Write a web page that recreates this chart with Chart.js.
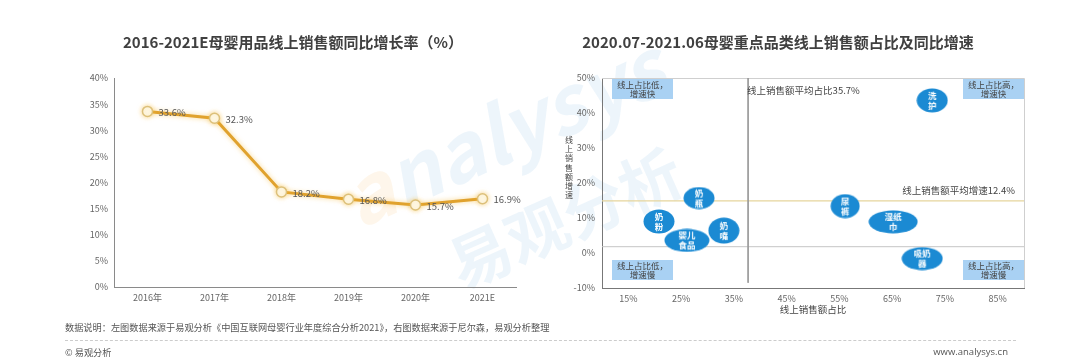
<!DOCTYPE html>
<html>
<head>
<meta charset="utf-8">
<script src="https://cdn.jsdelivr.net/npm/chart.js@4.4.0/dist/chart.umd.min.js"></script>
<style>
html,body{margin:0;padding:0;background:#fff;}
#page{position:relative;width:1080px;height:360px;overflow:hidden;font-family:"Noto Sans CJK SC","Noto Sans",sans-serif;}
#page canvas{position:absolute;top:0;}
.title{position:absolute;top:32px;font-size:15px;font-weight:bold;color:#404040;white-space:nowrap;transform:translateX(-50%);line-height:20px;}
.wm{position:absolute;white-space:nowrap;font-weight:bold;color:rgba(80,155,215,0.10);transform-origin:center;}
.note{position:absolute;left:65px;top:320px;font-size:9.2px;color:#555;line-height:14px;white-space:nowrap;}
.rule{position:absolute;left:65px;width:951px;top:340px;border-top:1px dashed #ccc;}
.copy{position:absolute;left:65px;top:345px;font-size:9.2px;color:#555;line-height:14px;}
.site{position:absolute;right:72px;top:345px;font-size:9.5px;color:#555;line-height:14px;font-family:"Open Sans",sans-serif;}
</style>
</head>
<body>
<div id="page">
  <div class="wm" style="left:330px;top:70px;font-size:80px;font-style:italic;transform:rotate(-24deg);"><span style="color:rgba(245,170,60,0.10)">a</span>nalysys</div>
  <div class="wm" style="left:440px;top:170px;font-size:62px;transform:rotate(-24deg);">易观分析</div>
  <canvas id="rateChart" width="540" height="360" style="left:0"></canvas>
  <canvas id="shareChart" width="540" height="360" style="left:540px"></canvas>
  <div class="title" style="left:293px">2016-2021E母婴用品线上销售额同比增长率（%）</div>
  <div class="title" style="left:778px">2020.07-2021.06母婴重点品类线上销售额占比及同比增速</div>
  <div class="note">数据说明：左图数据来源于易观分析《中国互联网母婴行业年度综合分析2021》，右图数据来源于尼尔森，易观分析整理</div>
  <div class="rule"></div>
  <div class="copy">© 易观分析</div>
  <div class="site">www.analysys.cn</div>
</div>
<script>
// left chart data
var years = ['2016年','2017年','2018年','2019年','2020年','2021E'];
var growthRate = [33.6, 32.3, 18.2, 16.8, 15.7, 16.9];

// right chart data
var categories = ['奶瓶','奶粉','婴儿食品','奶嘴','尿裤','湿纸巾','吸奶器','洗护'];
var catLines = [['奶','瓶'],['奶','粉'],['婴儿','食品'],['奶','嘴'],['尿','裤'],['湿纸','巾'],['吸奶','器'],['洗','护']];
var onlineShare = [28.4, 20.8, 26.1, 33.1, 56.1, 65.2, 70.7, 72.6];
var onlineGrowth = [15.7, 9.0, 3.6, 6.4, 13.4, 8.9, -1.6, 43.6];
var shareTicks = [15, 25, 35, 45, 55, 65, 75, 85];
var avgShareAt = 37.7, avgGrowthAt = 14.9, baseAt = 1.8;
var avgShareText = '线上销售额平均占比35.7%';
var avgGrowthText = '线上销售额平均增速12.4%';
var quadText = [['线上占比低，','增速快'],['线上占比高，','增速快'],['线上占比低，','增速慢'],['线上占比高，','增速慢']];

// bubble shapes (style only)
var bubbleW = [32, 32, 46, 32, 30, 50, 42, 32];
var bubbleH = [23, 25, 24, 27, 25, 24, 24, 25];

var FONT = '"Noto Sans CJK SC","Noto Sans",sans-serif';
Chart.defaults.font.family = FONT;

function makeBubble(lines, w, h){
  var cv = document.createElement('canvas');
  cv.width = w; cv.height = h;
  var g = cv.getContext('2d');
  g.fillStyle = '#1b8ad3';
  g.beginPath();
  g.ellipse(w/2, h/2, w/2 - 0.5, h/2 - 0.5, 0, 0, Math.PI*2);
  g.fill();
  g.fillStyle = '#fff';
  g.font = 'bold 8.5px ' + FONT;
  g.textAlign = 'center';
  g.textBaseline = 'middle';
  g.fillText(lines[0], w/2, h/2 - 5);
  g.fillText(lines[1], w/2, h/2 + 5);
  return cv;
}

var glow = {
  id: 'glow',
  beforeDatasetsDraw: function(c){ c.ctx.save(); c.ctx.shadowColor = 'rgba(245,185,60,0.6)'; c.ctx.shadowBlur = 5; },
  afterDatasetsDraw: function(c){ c.ctx.restore(); }
};

var rateLabels = {
  id: 'rateLabels',
  afterDatasetsDraw: function(c){
    var ctx = c.ctx, meta = c.getDatasetMeta(0);
    ctx.save();
    ctx.font = '9.5px ' + FONT;
    ctx.fillStyle = '#555';
    ctx.textBaseline = 'middle';
    for(var i=0;i<meta.data.length;i++){
      var p = meta.data[i];
      ctx.fillText(growthRate[i].toFixed(1) + '%', p.x + 11, p.y + 1);
    }
    ctx.restore();
  }
};

new Chart(document.getElementById('rateChart'), {
  type: 'line',
  data: {
    labels: years,
    datasets: [{
      data: growthRate,
      borderColor: '#e0a22e',
      borderWidth: 3,
      pointRadius: 5,
      pointBackgroundColor: '#fffef5',
      pointBorderColor: '#dcc07a',
      pointBorderWidth: 1.5,
      tension: 0
    }]
  },
  options: {
    responsive: false,
    animation: false,
    layout: { padding: { left: 64, right: 24, top: 78, bottom: 48 } },
    plugins: { legend: { display: false }, tooltip: { enabled: false } },
    scales: {
      x: {
        offset: true,
        grid: { display: false, drawTicks: false },
        border: { color: '#8a8a8a', width: 1 },
        ticks: { padding: 5, color: '#666', font: { size: 9 } },
        afterFit: function(s){ s.height = 25; }
      },
      y: {
        min: 0, max: 40,
        grid: { display: false, drawTicks: false },
        border: { color: '#8a8a8a', width: 1 },
        ticks: { stepSize: 5, padding: 6, color: '#666', font: { size: 9 }, callback: function(v){ return v + '%'; } },
        afterFit: function(s){ s.width = 50; }
      }
    }
  },
  plugins: [glow, rateLabels]
});

var shareDecor = {
  id: 'shareDecor',
  beforeDatasetsDraw: function(c){
    var ctx = c.ctx, a = c.chartArea;
    ctx.save();
    ctx.strokeStyle = '#cfcfcf';
    ctx.lineWidth = 1;
    ctx.beginPath();
    ctx.moveTo(a.left, a.top + 0.5); ctx.lineTo(a.right + 0.5, a.top + 0.5);
    ctx.lineTo(a.right + 0.5, a.bottom);
    ctx.stroke();
    ctx.restore();
  },
  afterDatasetsDraw: function(c){
    var ctx = c.ctx, a = c.chartArea, xs = c.scales.x, ys = c.scales.y;
    ctx.save();
    // quadrant tags
    var bw = 61, bh = 20;
    var boxes = [[a.left + 10, a.top + 1], [a.right - bw, a.top + 1], [a.left + 10, a.bottom - 28], [a.right - bw, a.bottom - 28]];
    ctx.font = '8.5px ' + FONT;
    ctx.textAlign = 'center';
    ctx.textBaseline = 'middle';
    for(var i=0;i<boxes.length;i++){
      ctx.fillStyle = '#a9d1f3';
      ctx.fillRect(boxes[i][0], boxes[i][1], bw, bh);
      ctx.fillStyle = '#444';
      ctx.fillText(quadText[i][0], boxes[i][0] + bw/2, boxes[i][1] + 5.5);
      ctx.fillText(quadText[i][1], boxes[i][0] + bw/2, boxes[i][1] + 15);
    }
    // average line labels
    ctx.font = '9.5px ' + FONT;
    ctx.fillStyle = '#444';
    ctx.textAlign = 'left';
    ctx.fillText(avgShareText, xs.getPixelForValue(avgShareAt) - 1, a.top + 12);
    ctx.textAlign = 'right';
    ctx.fillText(avgGrowthText, a.right - 9, ys.getPixelForValue(avgGrowthAt) - 10);
    // vertical y-axis title
    ctx.font = '8px ' + FONT;
    ctx.textAlign = 'center';
    var yt = '线上销售额增速';
    for(var k=0;k<yt.length;k++){
      ctx.fillText(yt[k], a.left - 33, 140 + k*9.2);
    }
    ctx.restore();
  }
};

var bubbleImgs = [];
for(var b=0;b<categories.length;b++){ bubbleImgs.push(makeBubble(catLines[b], bubbleW[b], bubbleH[b])); }

var bubblePts = [];
for(var j=0;j<onlineShare.length;j++){ bubblePts.push({ x: onlineShare[j], y: onlineGrowth[j] }); }

new Chart(document.getElementById('shareChart'), {
  type: 'scatter',
  data: {
    datasets: [
      { label: '品类', data: bubblePts, pointStyle: bubbleImgs, pointRadius: 12, showLine: false },
      { label: 'avgShare', data: [{x: avgShareAt, y: 50}, {x: avgShareAt, y: -8.5}], showLine: true, borderColor: '#9c9c9c', borderWidth: 1, pointRadius: 0 },
      { label: 'avgGrowth', data: [{x: 10, y: avgGrowthAt}, {x: 90, y: avgGrowthAt}], showLine: true, borderColor: '#e6d59c', borderWidth: 1.2, pointRadius: 0 },
      { label: 'base', data: [{x: 10, y: baseAt}, {x: 90, y: baseAt}], showLine: true, borderColor: '#c6c6c6', borderWidth: 1, pointRadius: 0 }
    ]
  },
  options: {
    responsive: false,
    animation: false,
    layout: { padding: { left: 22, right: 56, top: 78, bottom: 40 } },
    plugins: { legend: { display: false }, tooltip: { enabled: false } },
    scales: {
      x: {
        type: 'linear', min: 10, max: 90,
        afterBuildTicks: function(s){ s.ticks = shareTicks.map(function(v){ return { value: v }; }); },
        grid: { display: false, drawTicks: false },
        border: { color: '#777', width: 1 },
        ticks: { padding: 5, color: '#666', font: { size: 9 }, callback: function(v){ return v + '%'; } },
        title: { display: true, text: '线上销售额占比', color: '#444', font: { size: 9.5 }, padding: { top: 0, bottom: 5 } },
        afterFit: function(s){ s.height = 32; }
      },
      y: {
        min: -10, max: 50,
        grid: { display: false, drawTicks: false },
        border: { color: '#777', width: 1 },
        ticks: { stepSize: 10, padding: 7, color: '#666', font: { size: 9 }, callback: function(v){ return v + '%'; } },
        afterFit: function(s){ s.width = 40; }
      }
    }
  },
  plugins: [shareDecor]
});
</script>
</body>
</html>
